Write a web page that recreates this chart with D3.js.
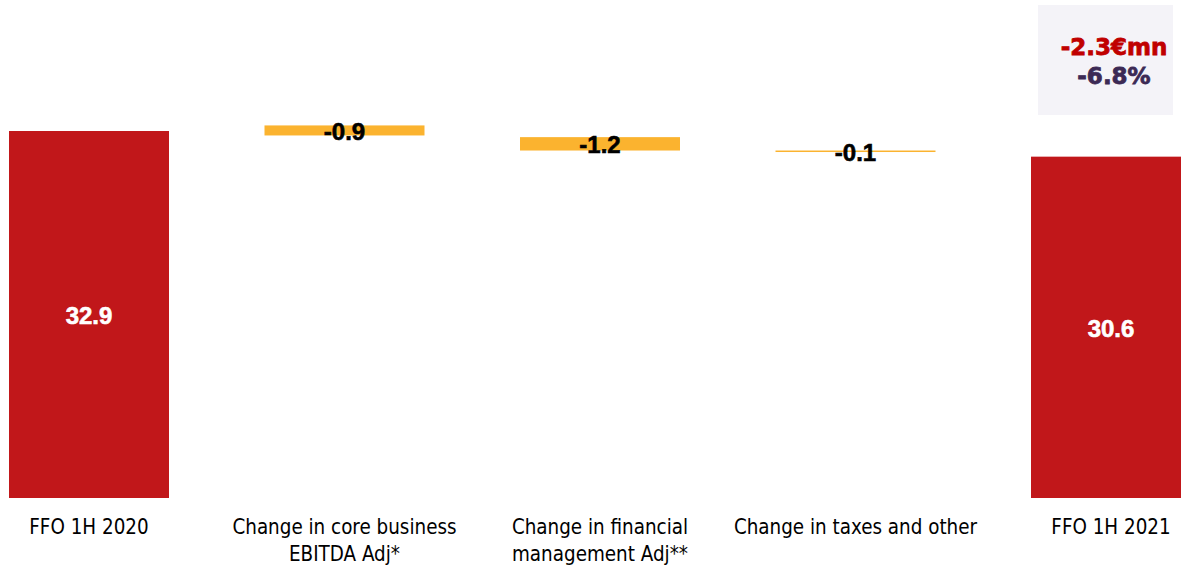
<!DOCTYPE html>
<html>
<head>
<meta charset="utf-8">
<script src="https://cdn.jsdelivr.net/npm/d3@7"></script>
<style>
  html, body { margin: 0; padding: 0; background: #fff; overflow: hidden; }
  svg { display: block; }
</style>
</head>
<body>
<div id="chart"></div>
<script>
// Chart data
const categories = ["FFO 1H 2020", "Change in core business\nEBITDA Adj*", "Change in financial\nmanagement Adj**", "Change in taxes and other", "FFO 1H 2021"];
const values = [32.9, -0.9, -1.2, -0.1, 30.6];
const kinds = ["total", "delta", "delta", "delta", "total"];
// top of each floating bar
const floatTops = [null, 33.4, 32.35, 31.15, null];
const labels = ["32.9", "-0.9", "-1.2", "-0.1", "30.6"];
const summaryLines = ["-2.3€mn", "-6.8%"];

const width = 1181, height = 567;
const baseY = 498;

const svg = d3.select("#chart").append("svg")
    .attr("width", width)
    .attr("height", height);

const x = d3.scaleBand()
    .domain(categories)
    .range([9, 1191])
    .paddingInner(0.3738)
    .paddingOuter(0);

const y = d3.scaleLinear()
    .domain([0, 32.9])
    .range([baseY, 131]);

const rows = categories.map((c, i) => {
    const top = kinds[i] === "total" ? values[i] : floatTops[i];
    const bottom = kinds[i] === "total" ? 0 : floatTops[i] + values[i];
    return { c, top, bottom, kind: kinds[i], label: labels[i] };
});

// Bars
svg.selectAll("rect.bar")
    .data(rows)
    .enter()
    .append("rect")
    .attr("class", "bar")
    .attr("x", d => x(d.c))
    .attr("y", d => y(d.top))
    .attr("width", x.bandwidth())
    .attr("height", d => Math.max(1.5, y(d.bottom) - y(d.top)))
    .attr("fill", d => d.kind === "total" ? "#c1171a" : "#fbb32f");

// Value labels
svg.selectAll("text.val")
    .data(rows)
    .enter()
    .append("text")
    .attr("class", "val")
    .attr("x", d => x(d.c) + x.bandwidth() / 2)
    .attr("y", d => (y(d.top) + y(d.bottom)) / 2 + 9.5)
    .attr("text-anchor", "middle")
    .attr("font-family", "Liberation Sans, Arial, sans-serif")
    .attr("font-weight", "bold")
    .attr("font-size", 24)
    .attr("fill", d => d.kind === "total" ? "#ffffff" : "#000000")
    .attr("stroke", d => d.kind === "total" ? "#ffffff" : "#000000")
    .attr("stroke-width", 0.6)
    .text(d => d.label);

// Category labels
const cat = svg.selectAll("text.cat")
    .data(rows)
    .enter()
    .append("text")
    .attr("class", "cat")
    .attr("x", d => x(d.c) + x.bandwidth() / 2)
    .attr("y", 534)
    .attr("text-anchor", "middle")
    .attr("font-family", "DejaVu Sans Condensed, DejaVu Sans, sans-serif")
    .attr("font-size", 20.4)
    .attr("fill", "#000");

cat.selectAll("tspan")
    .data(d => d.c.split("\n").map(t => ({ t, x: x(d.c) + x.bandwidth() / 2 })))
    .enter()
    .append("tspan")
    .attr("x", t => t.x)
    .attr("dy", (t, i) => i === 0 ? 0 : 27)
    .text(t => t.t);

// Summary box
svg.append("rect")
    .attr("x", 1038)
    .attr("y", 5)
    .attr("width", 135)
    .attr("height", 110)
    .attr("fill", "#f4f3f8");

svg.selectAll("text.sum")
    .data(summaryLines)
    .enter()
    .append("text")
    .attr("class", "sum")
    .attr("x", 1114)
    .attr("y", (d, i) => 55 + i * 29)
    .attr("text-anchor", "middle")
    .attr("font-family", "DejaVu Sans, sans-serif")
    .attr("font-weight", "bold")
    .attr("font-size", 23)
    .attr("fill", (d, i) => i === 0 ? "#c00000" : "#3c2a55")
    .attr("stroke", (d, i) => i === 0 ? "#c00000" : "#3c2a55")
    .attr("stroke-width", 0.8)
    .text(d => d);
</script>
</body>
</html>
